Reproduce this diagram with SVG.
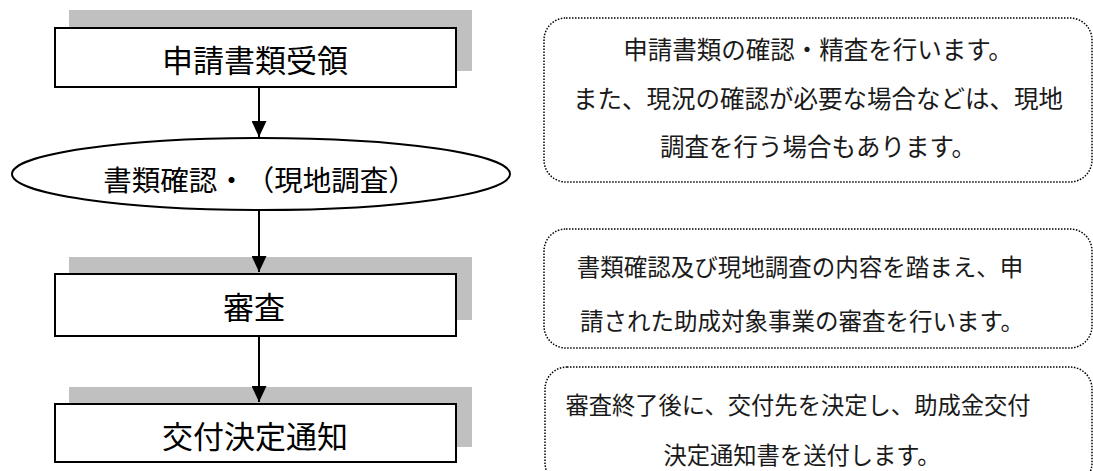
<svg xmlns="http://www.w3.org/2000/svg" width="1093" height="471" viewBox="0 0 1093 471">
<defs>
<style>
text{text-spacing-trim:space-all}
.shadow{fill:#c0c0c0;stroke:none}
.box{fill:#fff;stroke:#000;stroke-width:2}
.lbl{font-family:"Noto Sans CJK JP","Noto Sans",sans-serif;font-size:31px;fill:#000;text-anchor:middle}
.note{fill:#fff;stroke:#000;stroke-width:1.5;stroke-dasharray:1.5 1.5}
.nt{font-family:"Noto Sans CJK JP","Noto Sans",sans-serif;fill:#1a1a1a;text-anchor:middle}
.conn{stroke:#000;stroke-width:2;fill:none}
</style>
<marker id="arr" viewBox="0 0 16 15" refX="16" refY="7.5" markerWidth="16" markerHeight="15" markerUnits="userSpaceOnUse" orient="auto">
<path d="M0,0 L16,7.5 L0,15 Z" fill="#000"/>
</marker>
</defs>
<rect width="1093" height="471" fill="#fff"/>

<g id="n1">
<rect class="shadow" x="69" y="10" width="403" height="61"/>
<rect class="box" x="55" y="28" width="401" height="59"/>
<text class="lbl" x="255" y="72">申請書類受領</text>
</g>

<g id="n2">
<ellipse cx="261" cy="174" rx="249" ry="36" fill="#fff" stroke="#000" stroke-width="2"/>
<text class="lbl" x="260" y="191" style="font-size:28.5px">書類確認・（現地調査）</text>
</g>

<g id="n3">
<rect class="shadow" x="69" y="257" width="403" height="63"/>
<rect class="box" x="55" y="274" width="401" height="62"/>
<text class="lbl" x="254" y="319">審査</text>
</g>

<g id="n4">
<rect class="shadow" x="69" y="387" width="403" height="60"/>
<rect class="box" x="55" y="404" width="401" height="58"/>
<text class="lbl" x="255" y="448">交付決定通知</text>
</g>

<g id="note1">
<rect class="note" x="544" y="18" width="548" height="164" rx="22" ry="22"/>
<text class="nt" x="818" y="59" style="font-size:24.5px">申請書類の確認・精査を行います。</text>
<text class="nt" x="818" y="108" style="font-size:24.5px">また、現況の確認が必要な場合などは、現地</text>
<text class="nt" x="818" y="156" style="font-size:24.5px">調査を行う場合もあります。</text>
</g>

<g id="note2">
<rect class="note" x="544" y="229" width="548" height="119" rx="22" ry="22"/>
<text class="nt" x="800" y="276" style="font-size:23.5px">書類確認及び現地調査の内容を踏まえ、申</text>
<text class="nt" x="802" y="330" style="font-size:23.5px">請された助成対象事業の審査を行います。</text>
</g>

<g id="note3">
<rect class="note" x="545" y="367" width="547" height="118" rx="22" ry="22"/>
<text class="nt" x="798" y="414" style="font-size:23.3px">審査終了後に、交付先を決定し、助成金交付</text>
<text class="nt" x="802" y="464" style="font-size:23.3px">決定通知書を送付します。</text>
</g>

<g id="connectors">
<line class="conn" x1="259" y1="87" x2="259" y2="137" marker-end="url(#arr)"/>
<line class="conn" x1="259" y1="210" x2="259" y2="272" marker-end="url(#arr)"/>
<line class="conn" x1="259" y1="336" x2="259" y2="402" marker-end="url(#arr)"/>
</g>
</svg>
